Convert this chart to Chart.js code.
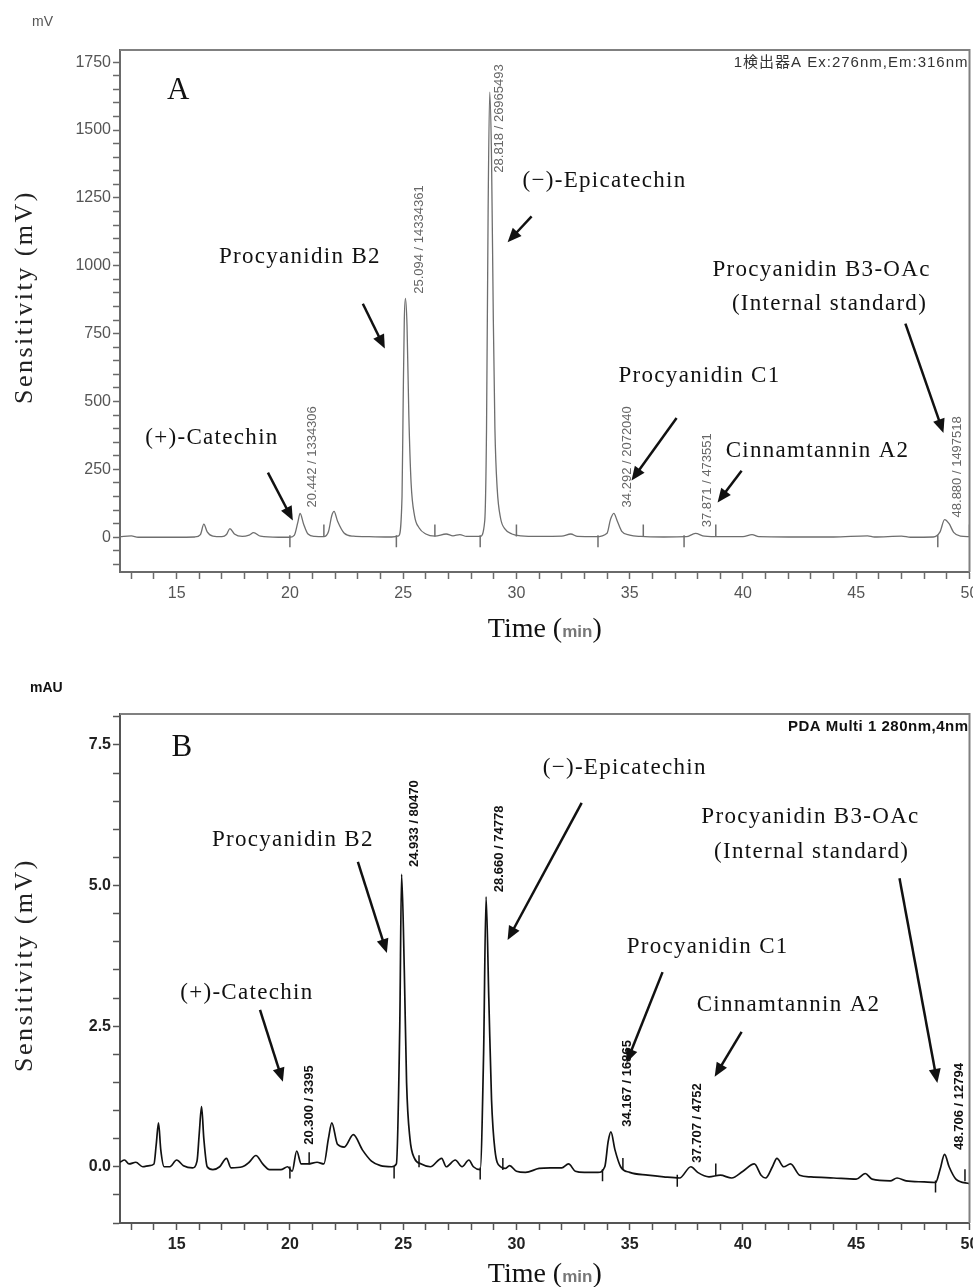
<!DOCTYPE html>
<html>
<head>
<meta charset="utf-8">
<script src="https://cdn.jsdelivr.net/npm/chart.js@4.4.0/dist/chart.umd.min.js"></script>
<style>
  html, body { margin: 0; background: #fff; overflow: hidden; }
  canvas { position: absolute; left: 0; }
  #chartA { top: 0; }
  #chartB { top: 643px; }
</style>
</head>
<body>
<canvas id="chartA" width="977" height="643"></canvas>
<canvas id="chartB" width="977" height="644"></canvas>
<script>
// ---- panel A : fluorescence detector (mV) ----
var timeA = [12.5, 13.0, 13.3, 14.0, 15.0, 15.8, 16.05, 16.2, 16.35, 16.6, 17.0, 17.2, 17.35, 17.55, 17.9,
  18.2, 18.4, 18.7, 19.5, 20.0, 20.2, 20.35, 20.45, 20.6, 20.8, 21.1, 21.5, 21.7, 21.85, 21.95, 22.1, 22.4,
  22.8, 23.5, 24.5, 24.8, 24.95, 25.0, 25.05, 25.1, 25.17, 25.25, 25.35, 25.5, 25.7, 26.0, 26.4, 26.9, 27.2,
  27.5, 27.8, 28.4, 28.6, 28.68, 28.75, 28.82, 28.9, 28.98, 29.05, 29.15, 29.3, 29.5, 29.8, 30.2, 31.0, 32.0,
  32.4, 32.7, 33.5, 34.0, 34.15, 34.3, 34.45, 34.65, 35.0, 35.5, 36.5, 37.5, 37.9, 38.3, 39.0, 40.0, 40.4,
  40.7, 42.0, 44.0, 45.5, 45.8, 47.0, 47.4, 48.4, 48.7, 48.9, 49.1, 49.3, 49.6, 50.0];
var signalA = [2, 5, 0, 0, 0, 1, 10, 48, 20, 4, 2, 10, 32, 12, 3,
  8, 17, 4, 0, 0, 8, 55, 88, 50, 12, 3, 2, 20, 80, 95, 60, 15,
  4, 2, 1, 5, 150, 500, 800, 880, 780, 450, 200, 80, 35, 12, 4, 12, 5,
  10, 3, 3, 60, 400, 1200, 1640, 1400, 800, 400, 180, 70, 30, 12, 5, 3, 4,
  12, 3, 2, 15, 65, 88, 60, 22, 8, 3, 1, 2, 14, 4, 2, 2, 10,
  2, 1, 1, 5, 1, 4, 0, 1, 20, 65, 50, 18, 4, 2];
var markTimeA = [20.0, 21.5, 24.7, 26.4, 28.4, 30.0, 33.6, 35.6, 37.4, 38.8, 48.6, 50.0];
var markLevelA = [-15, 25, -15, 25, -15, 25, -15, 25, -15, 25, -15, 25];
var peakTextA = ['20.442 / 1334306', '25.094 / 14334361', '28.818 / 26965493',
  '34.292 / 2072040', '37.871 / 473551', '48.880 / 1497518'];

// ---- panel B : PDA detector (mAU) ----
var timeB = [12.5, 12.7, 12.9, 13.2, 13.5, 13.8, 14.0, 14.1, 14.2, 14.3, 14.45, 14.7, 15.0, 15.3, 15.7,
  15.9, 16.0, 16.1, 16.2, 16.35, 16.6, 16.9, 17.2, 17.4, 17.9, 18.2, 18.5, 18.8, 19.1, 19.6, 19.9, 20.1,
  20.3, 20.5, 20.8, 21.2, 21.5, 21.7, 21.85, 22.1, 22.4, 22.8, 23.2, 23.6, 24.0, 24.5, 24.7, 24.85, 24.93,
  25.05, 25.15, 25.3, 25.5, 25.8, 26.2, 26.7, 26.9, 27.3, 27.6, 27.9, 28.1, 28.4, 28.55, 28.66, 28.78, 28.9,
  29.05, 29.3, 29.5, 29.7, 30.0, 30.4, 31.0, 31.5, 32.0, 32.3, 32.6, 33.0, 33.6, 33.9, 34.05, 34.17, 34.35,
  34.6, 35.0, 35.8, 36.5, 37.2, 37.7, 38.0, 38.5, 39.0, 39.5, 40.0, 40.5, 40.8, 41.0, 41.3, 41.5, 41.8,
  42.1, 42.5, 43.0, 44.0, 45.0, 45.4, 45.7, 46.5, 46.8, 47.2, 48.0, 48.5, 48.7, 48.9, 49.1, 49.4, 50.0];
var signalB = [0.08, 0.12, 0.05, 0.08, 0.0, 0.02, 0.05, 0.4, 0.78, 0.3, 0.0, 0.0, 0.12, 0.02, -0.02,
  0.1, 0.6, 1.07, 0.5, 0.0, -0.05, 0.0, 0.15, -0.02, 0.0, 0.08, 0.2, 0.05, -0.05, -0.05, 0.0, -0.08,
  0.28, 0.05, 0.05, 0.08, 0.05, 0.5, 0.78, 0.4, 0.35, 0.57, 0.3, 0.1, 0.02, 0.0, 0.05, 2.5, 5.2,
  3.5, 1.5, 0.5, 0.15, 0.05, 0.0, 0.15, 0.0, 0.12, 0.0, 0.12, 0.0, -0.05, 2.0, 4.8, 3.0, 1.2,
  0.3, 0.0, -0.03, 0.02, -0.08, -0.1, -0.03, -0.02, -0.02, 0.05, -0.08, -0.1, -0.1, 0.0, 0.45, 0.62, 0.3,
  0.0, -0.1, -0.15, -0.18, -0.2, 0.0, -0.1, -0.18, -0.15, -0.2, -0.08, 0.05, -0.15, -0.2, 0.0, 0.15, 0.0,
  0.05, -0.15, -0.18, -0.2, -0.22, -0.12, -0.22, -0.25, -0.2, -0.25, -0.27, -0.28, -0.05, 0.22, 0.0, -0.22, -0.3];
var markTimeB = [20.0, 20.85, 24.6, 25.7, 28.4, 29.4, 33.8, 34.7, 37.1, 38.8, 48.5, 49.8];
var markLevelB = [-0.1, 0.15, -0.1, 0.1, -0.12, 0.05, -0.15, 0.05, -0.25, -0.05, -0.35, -0.15];
var peakTextB = ['20.300 / 3395', '24.933 / 80470', '28.660 / 74778',
  '34.167 / 16865', '37.707 / 4752', '48.706 / 12794'];

var compounds = ['(+)-Catechin', 'Procyanidin B2', '(\u2212)-Epicatechin', 'Procyanidin C1',
  'Cinnamtannin A2', 'Procyanidin B3-OAc', '(Internal standard)'];

var SERIF = '"Liberation Serif", "DejaVu Serif", serif';
var SANS = '"Liberation Sans", Arial, sans-serif';

function drawArrow(ctx, x1, y1, x2, y2) {
  var a = Math.atan2(y2 - y1, x2 - x1), L = 14, W = 6;
  ctx.beginPath();
  ctx.moveTo(x1, y1);
  ctx.lineTo(x2 - L * 0.8 * Math.cos(a), y2 - L * 0.8 * Math.sin(a));
  ctx.stroke();
  ctx.beginPath();
  ctx.moveTo(x2, y2);
  ctx.lineTo(x2 - L * Math.cos(a) + W * Math.sin(a), y2 - L * Math.sin(a) - W * Math.cos(a));
  ctx.lineTo(x2 - L * Math.cos(a) - W * Math.sin(a), y2 - L * Math.sin(a) + W * Math.cos(a));
  ctx.closePath();
  ctx.fill();
}

// draws frame, names, arrows, peak labels and titles
var notesPlugin = {
  id: 'notes',
  afterDraw: function(chart, args, o) {
    var ctx = chart.ctx, xs = chart.scales.x, ys = chart.scales.y, ca = chart.chartArea;
    var px = function(t) { return xs.getPixelForValue(t); };
    var py = function(v) { return ys.getPixelForValue(v); };
    ctx.save();

    ctx.strokeStyle = o.frameColor;
    ctx.lineWidth = 2;
    ctx.beginPath();
    ctx.moveTo(ca.left, ca.top); ctx.lineTo(ca.right, ca.top); ctx.lineTo(ca.right, ca.bottom);
    ctx.stroke();

    // panel letter
    ctx.fillStyle = '#111';
    ctx.font = '31px ' + SERIF;
    ctx.textAlign = 'center';
    ctx.textBaseline = 'middle';
    ctx.fillText(o.panel, px(o.panelPos[0]), py(o.panelPos[1]));

    // detector text
    ctx.font = o.detFont;
    ctx.fillStyle = o.detColor;
    ctx.textAlign = 'right';
    ctx.letterSpacing = o.detSpacing;
    ctx.fillText(o.detector, ca.right - 1, ca.top + 13);
    ctx.letterSpacing = '0px';

    // compound names
    ctx.fillStyle = '#111';
    ctx.font = '23px ' + SERIF;
    ctx.textAlign = 'center';
    ctx.letterSpacing = '1.3px';
    compounds.forEach(function(name, i) {
      ctx.fillText(name, px(o.namePos[i][0]), py(o.namePos[i][1]));
    });
    ctx.letterSpacing = '0px';

    // arrows
    ctx.strokeStyle = '#111';
    ctx.lineWidth = 2.5;
    o.arrows.forEach(function(a) {
      drawArrow(ctx, px(a[0]), py(a[1]), px(a[2]), py(a[3]));
    });

    // peak labels
    ctx.fillStyle = o.peakColor;
    ctx.font = o.peakFont;
    ctx.textAlign = 'left';
    o.peakText.forEach(function(s, i) {
      ctx.save();
      ctx.translate(px(o.peakPos[i][0]), py(o.peakPos[i][1]));
      ctx.rotate(-Math.PI / 2);
      ctx.fillText(s, 0, 0);
      ctx.restore();
    });

    // y title
    ctx.save();
    ctx.translate(25, o.yTitleY);
    ctx.rotate(-Math.PI / 2);
    ctx.fillStyle = '#222';
    ctx.font = '26px ' + SERIF;
    ctx.textAlign = 'center';
    ctx.letterSpacing = '2.5px';
    ctx.fillText('Sensitivity (mV)', 0, 0);
    ctx.restore();

    // unit at top-left
    ctx.font = o.unitFont;
    ctx.fillStyle = o.unitColor;
    ctx.textAlign = 'left';
    ctx.fillText(o.unit, o.unitX, o.unitY);

    // x title "Time (min)"
    var f1 = '28px ' + SERIF, f2 = 'bold 17px ' + SANS;
    ctx.font = f1; var w1 = ctx.measureText('Time (').width, w3 = ctx.measureText(')').width;
    ctx.font = f2; var w2 = ctx.measureText('min').width;
    var x0 = (ca.left + ca.right) / 2 - (w1 + w2 + w3) / 2, yT = o.xTitleY;
    ctx.fillStyle = '#111';
    ctx.font = f1; ctx.fillText('Time (', x0, yT);
    ctx.fillStyle = '#777';
    ctx.font = f2; ctx.fillText('min', x0 + w1, yT + 2);
    ctx.fillStyle = '#111';
    ctx.font = f1; ctx.fillText(')', x0 + w1 + w2, yT);

    ctx.restore();
  }
};

function makeChart(id, time, signal, markT, markV, ax, notes) {
  var pts = time.map(function(t, i) { return { x: t, y: signal[i] }; });
  var marks = markT.map(function(t, i) { return { x: t, y: markV[i] }; });
  return new Chart(id, {
    type: 'line',
    data: {
      datasets: [
        {
          data: pts,
          borderColor: ax.trace,
          borderWidth: ax.traceWidth,
          pointRadius: 0,
          cubicInterpolationMode: 'monotone',
          fill: false
        },
        {
          type: 'scatter',
          data: marks,
          pointStyle: 'line',
          rotation: 90,
          radius: 6,
          borderColor: ax.trace,
          borderWidth: 1.5
        }
      ]
    },
    options: {
      responsive: false,
      animation: false,
      events: [],
      layout: { padding: { top: ax.padTop, right: 0, left: 0, bottom: 0 } },
      plugins: {
        legend: { display: false },
        tooltip: { enabled: false },
        notes: notes
      },
      scales: {
        x: {
          type: 'linear',
          min: 12.5,
          max: 50,
          afterFit: function(s) { s.height = ax.xHeight; s.paddingLeft = 0; s.paddingRight = 0; },
          ticks: {
            stepSize: 1,
            includeBounds: false,
            autoSkip: false,
            maxRotation: 0,
            padding: 5,
            color: ax.tickColor,
            font: { family: SANS, size: 16, weight: ax.tickWeight },
            callback: function(v) { return v % 5 === 0 ? String(v) : ''; }
          },
          grid: { drawOnChartArea: false, tickLength: 7, tickColor: ax.axisColor, tickWidth: 1.5 },
          border: { color: ax.axisColor, width: 2 }
        },
        y: {
          type: 'linear',
          min: ax.yMin,
          max: ax.yMax,
          afterFit: function(s) { s.width = 120; s.paddingTop = 0; s.paddingBottom = 0; },
          ticks: {
            stepSize: ax.yStep,
            includeBounds: false,
            autoSkip: false,
            padding: 2,
            color: ax.tickColor,
            font: { family: SANS, size: 16, weight: ax.tickWeight },
            callback: function(v) {
              var k = v / ax.yMajor;
              return Math.abs(k - Math.round(k)) < 1e-6 && v >= 0 ? v.toFixed(ax.yDec) : '';
            }
          },
          grid: { drawOnChartArea: false, tickLength: 7, tickColor: ax.axisColor, tickWidth: 1.5 },
          border: { color: ax.axisColor, width: 2 }
        }
      }
    },
    plugins: [notesPlugin]
  });
}

makeChart('chartA', timeA, signalA, markTimeA, markLevelA,
  { trace: '#6e6e6e', traceWidth: 1.3, padTop: 50, xHeight: 71, yMin: -128, yMax: 1795,
    yStep: 50, yMajor: 250, yDec: 0, tickColor: '#555', tickWeight: 'normal', axisColor: '#6a6a6a' },
  {
    frameColor: '#808080',
    panel: 'A', panelPos: [15.07, 1643],
    detector: '1検出器A Ex:276nm,Em:316nm',
    detFont: '15px "Liberation Sans", "Noto Sans CJK JP", sans-serif', detColor: '#333', detSpacing: '1px',
    namePos: [[16.56, 366], [20.44, 1032], [33.89, 1314], [38.08, 593], [43.29, 318], [43.47, 985], [43.82, 860]],
    arrows: [[19.03, 238, 20.13, 62], [23.22, 860, 24.19, 695], [30.67, 1182, 29.61, 1087],
      [37.07, 439, 35.08, 209], [39.94, 245, 38.88, 128], [47.17, 787, 48.85, 384]],
    peakText: peakTextA,
    peakPos: [[21.01, 110], [25.73, 897], [29.26, 1343], [34.91, 110], [38.44, 37], [49.47, 73]],
    peakFont: '13px ' + SANS, peakColor: '#666',
    yTitleY: 297,
    unit: 'mV', unitX: 32, unitY: 22, unitFont: '14px ' + SANS, unitColor: '#555',
    xTitleY: 630
  });

makeChart('chartB', timeB, signalB, markTimeB, markLevelB,
  { trace: '#111', traceWidth: 1.7, padTop: 71, xHeight: 64, yMin: -1.0, yMax: 8.05,
    yStep: 0.5, yMajor: 2.5, yDec: 1, tickColor: '#222', tickWeight: 'bold', axisColor: '#555' },
  {
    frameColor: '#808080',
    panel: 'B', panelPos: [15.23, 7.44],
    detector: 'PDA Multi 1 280nm,4nm',
    detFont: 'bold 15px ' + SANS, detColor: '#111', detSpacing: '0.5px',
    namePos: [[18.10, 3.09], [20.13, 5.81], [34.78, 7.09], [38.44, 3.91], [42.01, 2.88], [42.98, 6.22], [43.03, 5.60]],
    arrows: [[18.68, 2.79, 19.69, 1.51], [23.0, 5.42, 24.28, 3.80], [32.88, 6.47, 29.61, 4.03],
      [36.45, 3.46, 34.86, 1.85], [39.94, 2.40, 38.75, 1.60], [46.91, 5.13, 48.58, 1.49]],
    peakText: peakTextB,
    peakPos: [[20.88, 0.39], [25.51, 5.33], [29.26, 4.88], [34.91, 0.71], [37.99, 0.07], [49.55, 0.30]],
    peakFont: 'bold 13px ' + SANS, peakColor: '#111',
    yTitleY: 322,
    unit: 'mAU', unitX: 30, unitY: 45, unitFont: 'bold 14px ' + SANS, unitColor: '#111',
    xTitleY: 632
  });
</script>
</body>
</html>
